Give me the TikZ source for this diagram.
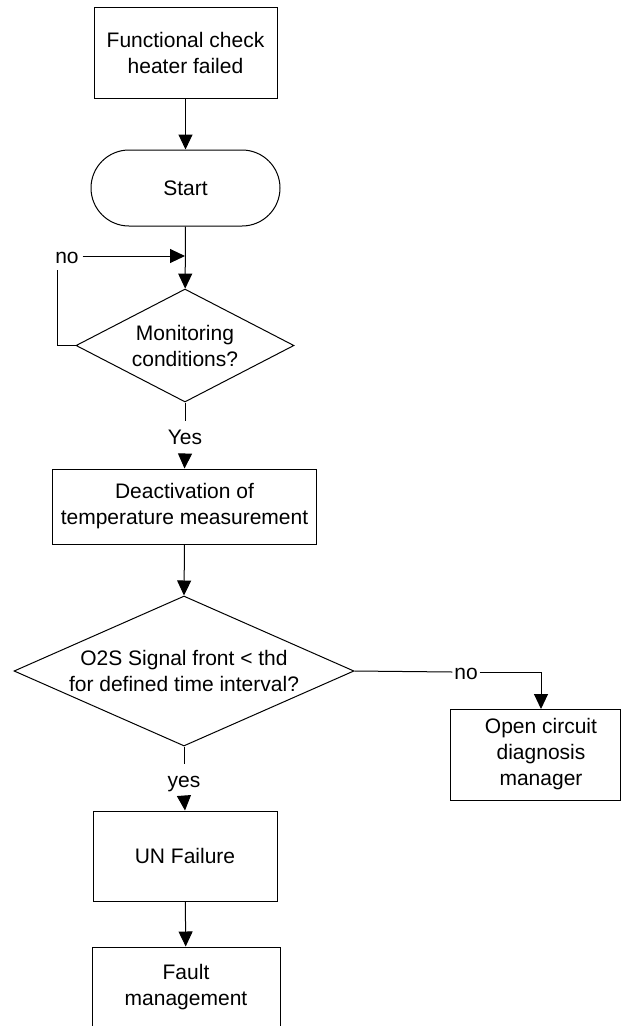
\documentclass[tikz,border=0pt]{standalone}
\usepackage{fontspec}
\setmainfont{Liberation Sans}
\usetikzlibrary{arrows.meta,shapes.geometric,calc}

\tikzset{
  every node/.style={font=\fontsize{21pt}{26pt}\selectfont, align=center},
  flowbox/.style={draw, line width=1pt, inner sep=0pt},
  decision/.style={draw, diamond, line width=1pt, inner sep=0pt},
  flowlabel/.style={inner sep=0pt, outer sep=4pt, text height=15pt, text depth=0pt},
  flow/.style={line width=1pt, -{Triangle[width=14pt,length=15pt]}},
  plain/.style={line width=1pt}
}

\begin{document}
\begin{tikzpicture}[x=1pt,y=-1pt]
  \clip (0,0) rectangle (621,1026);
  \fill[white] (0,0) rectangle (621,1026);

  % process steps
  \node[flowbox, minimum width=183pt, minimum height=91pt] (check) at (185.5,52.5) {Functional check\\heater failed};
  \node[flowbox, rounded corners=38pt, minimum width=189pt, minimum height=76pt] (start) at (185.5,188) {Start};
  \node[decision, aspect=1.93, minimum width=218pt, minimum height=113pt] (monitor) at (185,345.5) {Monitoring\\conditions?};
  \node[flowbox, minimum width=264pt, minimum height=75pt] (deact) at (184.5,506.5) {Deactivation of\\temperature measurement};
  \node[decision, aspect=2.3, minimum width=340pt, minimum height=150pt] (signal) at (184,671) {O2S Signal front < thd\\for defined time interval?};
  \node[flowbox, minimum width=170pt, minimum height=91pt] (open) at (535,754.5) {};
  \node (opentext) at (541,754.5) {Open circuit\\diagnosis\\manager};
  \node[flowbox, minimum width=184pt, minimum height=90pt] (unfail) at (185,856) {UN Failure};
  \node[flowbox, minimum width=188pt, minimum height=80pt] (fault) at (186,987) {Fault\\management};

  % branch labels
  \node[flowlabel] (no1) at (67,256) {no};
  \node[flowlabel, outer sep=9pt] (yes1) at (185,437) {Yes};
  \node[flowlabel, outer sep=2pt] (no2) at (466,672) {no};
  \node[flowlabel, outer sep=9pt] (yes2) at (184,780) {yes};

  % routing points
  \coordinate (loopup) at (57,270);
  \coordinate (rejoin) at (185,256);
  \coordinate (openin) at (541,709);

  % connectors
  \draw[flow] (check) -- (start);
  \draw[flow] (start) -- (monitor);
  \draw[plain] (monitor.west) -| (loopup);
  \draw[flow] (no1.east) -- (rejoin);
  \draw[plain] (monitor.south) -- (yes1.north);
  \draw[flow] (yes1.south) -- (deact.north);
  \draw[flow] (deact.south) -- (signal.north);
  \draw[plain] (signal.east) -- (no2.west);
  \draw[flow] (no2.east) -| (openin);
  \draw[plain] (signal.south) -- (yes2.north);
  \draw[flow] (yes2.south) -- (unfail.north);
  \draw[flow] (unfail) -- (fault);
\end{tikzpicture}
\end{document}
